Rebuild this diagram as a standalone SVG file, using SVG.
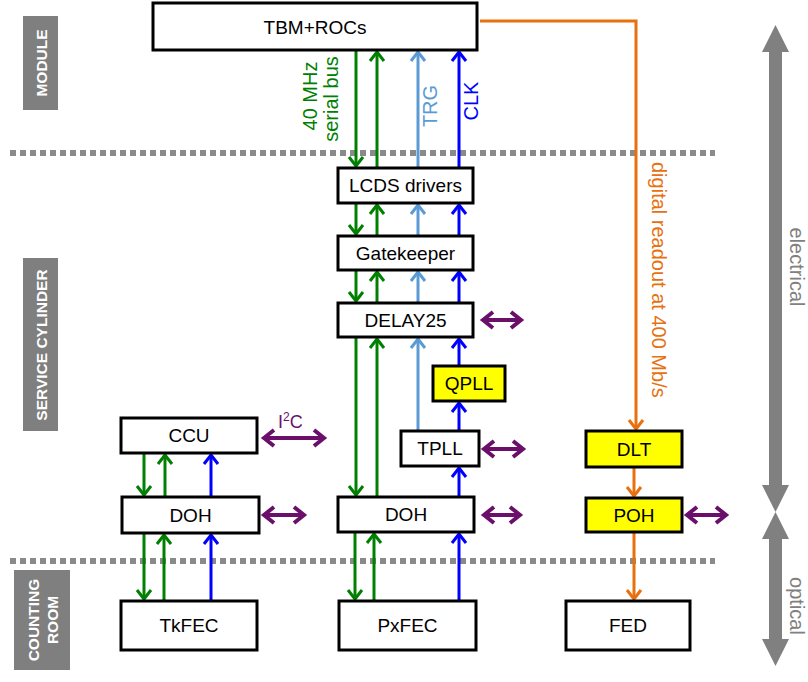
<svg xmlns="http://www.w3.org/2000/svg" width="808" height="682" viewBox="0 0 808 682">
<style>
.box{fill:#fff;stroke:#000;stroke-width:3}
.ybox{fill:#ffff00;stroke:#000;stroke-width:3}
.lbl{font-family:"Liberation Sans",Arial,sans-serif;font-size:19px;fill:#000;text-anchor:middle;dominant-baseline:central}
.side{fill:#7f7f7f}
.sidet{font-family:"Liberation Sans",Arial,sans-serif;font-size:15.5px;font-weight:bold;fill:#fff;text-anchor:middle;dominant-baseline:central}
.g{stroke:#008000;stroke-width:3;fill:none;marker-end:url(#aG)}
.lb{stroke:#5b9bd5;stroke-width:3;fill:none;marker-end:url(#aLB)}
.b{stroke:#0000ff;stroke-width:3;fill:none;marker-end:url(#aB)}
.o{stroke:#e8700f;stroke-width:3;fill:none;marker-end:url(#aO)}
.p{stroke:#6a0f6a;stroke-width:4;fill:none;marker-start:url(#aP);marker-end:url(#aP)}
.dot{stroke:#8a8a8a;stroke-width:6;stroke-dasharray:6 4;fill:none}
.gray{fill:#808080}
.rt{font-family:"Liberation Sans",Arial,sans-serif;font-size:20px}
</style>
<defs>
<marker id="aG" markerUnits="userSpaceOnUse" orient="auto" refX="0" refY="0" markerWidth="1" markerHeight="1" overflow="visible"><path d="M-9,-7 L0,0 L-9,7" fill="none" stroke="#008000" stroke-width="3"/></marker>
<marker id="aLB" markerUnits="userSpaceOnUse" orient="auto" refX="0" refY="0" markerWidth="1" markerHeight="1" overflow="visible"><path d="M-9,-7 L0,0 L-9,7" fill="none" stroke="#5b9bd5" stroke-width="3"/></marker>
<marker id="aB" markerUnits="userSpaceOnUse" orient="auto" refX="0" refY="0" markerWidth="1" markerHeight="1" overflow="visible"><path d="M-9,-7 L0,0 L-9,7" fill="none" stroke="#0000ff" stroke-width="3"/></marker>
<marker id="aO" markerUnits="userSpaceOnUse" orient="auto" refX="0" refY="0" markerWidth="1" markerHeight="1" overflow="visible"><path d="M-9,-7 L0,0 L-9,7" fill="none" stroke="#e8700f" stroke-width="3"/></marker>
<marker id="aP" markerUnits="userSpaceOnUse" orient="auto-start-reverse" refX="0" refY="0" markerWidth="1" markerHeight="1" overflow="visible"><path d="M-10,-8 L0,0 L-10,8" fill="none" stroke="#6a0f6a" stroke-width="4"/></marker>
</defs>

<g id="section-labels">
<rect class="side" x="23" y="16" width="35" height="94"/>
<text class="sidet" transform="translate(41,63) rotate(-90)">MODULE</text>
<rect class="side" x="23" y="258" width="35" height="173"/>
<text class="sidet" transform="translate(41,345) rotate(-90)">SERVICE CYLINDER</text>
<rect class="side" x="14" y="570" width="56" height="100"/>
<text class="sidet" transform="translate(33,620) rotate(-90)">COUNTING</text>
<text class="sidet" transform="translate(52,620) rotate(-90)">ROOM</text>
</g>

<g id="separators">
<line class="dot" x1="10" y1="153" x2="715" y2="153"/>
<line class="dot" x1="10" y1="561" x2="715" y2="561"/>
</g>

<g id="scale-arrows">
<rect class="gray" x="769" y="50" width="13" height="436"/>
<polygon class="gray" points="775.5,25 762,52 789,52"/>
<polygon class="gray" points="775.5,512 762,485 789,485"/>
<rect class="gray" x="769" y="537" width="13" height="104"/>
<polygon class="gray" points="775.5,512 762,539 789,539"/>
<polygon class="gray" points="775.5,666 762,639 789,639"/>
<text class="rt" fill="#808080" text-anchor="middle" transform="translate(790,267) rotate(90)">electrical</text>
<text class="rt" fill="#808080" text-anchor="middle" transform="translate(790,606) rotate(90)">optical</text>
</g>

<g id="connectors">
<path class="g" d="M356,50 V166"/>
<path class="g" d="M356,203 V234"/>
<path class="g" d="M356,270 V301"/>
<path class="g" d="M356,337 V495"/>
<path class="g" d="M355,532 V599"/>
<path class="g" d="M377,168 V52"/>
<path class="g" d="M377,236 V205"/>
<path class="g" d="M377,303 V272"/>
<path class="g" d="M377,497 V339"/>
<path class="g" d="M374,601 V534"/>
<path class="lb" d="M418,168 V52"/>
<path class="lb" d="M418,236 V205"/>
<path class="lb" d="M418,303 V272"/>
<path class="lb" d="M418,431 V339"/>
<path class="b" d="M459,168 V52"/>
<path class="b" d="M459,236 V205"/>
<path class="b" d="M459,303 V272"/>
<path class="b" d="M459,366 V339"/>
<path class="b" d="M459,431 V403"/>
<path class="b" d="M459,497 V468"/>
<path class="b" d="M459,601 V534"/>
<path class="g" d="M144,453 V495"/>
<path class="g" d="M165,497 V455"/>
<path class="b" d="M211,497 V455"/>
<path class="g" d="M144,533 V599"/>
<path class="g" d="M164,601 V535"/>
<path class="b" d="M211,601 V535"/>
<path class="o" d="M480,21 H636 V429"/>
<path class="o" d="M634,467 V496"/>
<path class="o" d="M634,532 V599"/>
<path class="p" d="M264,438 H324"/>
<path class="p" d="M264,515 H304"/>
<path class="p" d="M483,320 H521"/>
<path class="p" d="M484,449 H523"/>
<path class="p" d="M484,515 H520"/>
<path class="p" d="M687,515 H726"/>
</g>

<g id="connector-labels">
<text class="rt" fill="#008000" text-anchor="middle" transform="translate(317,96) rotate(-90)">40 MHz</text>
<text class="rt" fill="#008000" text-anchor="middle" transform="translate(338,99) rotate(-90)">serial bus</text>
<text class="rt" fill="#5b9bd5" font-size="18" text-anchor="middle" transform="translate(437,106) rotate(-90)">TRG</text>
<text class="rt" fill="#0000ff" font-size="18" text-anchor="middle" transform="translate(478,101) rotate(-90)">CLK</text>
<text class="rt" fill="#e8700f" font-size="21.5" text-anchor="start" transform="translate(652,162) rotate(90)">digital readout at 400 Mb/s</text>
<text font-family="Liberation Sans,Arial,sans-serif" font-size="18" fill="#6a0f6a" x="278" y="428">I<tspan font-size="12" dy="-7">2</tspan><tspan dy="7">C</tspan></text>
</g>

<g id="TBM-ROCs"><rect class="box" x="153" y="3" width="324" height="47"/><text class="lbl" x="315" y="27">TBM+ROCs</text></g>
<g id="LCDS"><rect class="box" x="338" y="168" width="135" height="35"/><text class="lbl" x="405.5" y="185.5">LCDS drivers</text></g>
<g id="Gatekeeper"><rect class="box" x="338" y="236" width="135" height="34"/><text class="lbl" x="405.5" y="253">Gatekeeper</text></g>
<g id="DELAY25"><rect class="box" x="338" y="303" width="135" height="34"/><text class="lbl" x="405.5" y="320">DELAY25</text></g>
<g id="QPLL"><rect class="ybox" x="433" y="366" width="72" height="35"/><text class="lbl" x="469" y="383.5">QPLL</text></g>
<g id="TPLL"><rect class="box" x="401" y="431" width="78" height="35"/><text class="lbl" x="440" y="448.5">TPLL</text></g>
<g id="DOH-px"><rect class="box" x="338" y="497" width="136" height="35"/><text class="lbl" x="406" y="514.5">DOH</text></g>
<g id="PxFEC"><rect class="box" x="339" y="601" width="137" height="49"/><text class="lbl" x="407.5" y="625.5">PxFEC</text></g>
<g id="CCU"><rect class="box" x="121" y="418" width="136" height="35"/><text class="lbl" x="189" y="435.5">CCU</text></g>
<g id="DOH-tk"><rect class="box" x="122" y="497" width="137" height="36"/><text class="lbl" x="190.5" y="515">DOH</text></g>
<g id="TkFEC"><rect class="box" x="121" y="601" width="136" height="49"/><text class="lbl" x="189" y="625.5">TkFEC</text></g>
<g id="DLT"><rect class="ybox" x="586" y="431" width="96" height="36"/><text class="lbl" x="634" y="449">DLT</text></g>
<g id="POH"><rect class="ybox" x="586" y="498" width="96" height="34"/><text class="lbl" x="634" y="515">POH</text></g>
<g id="FED"><rect class="box" x="566" y="601" width="124" height="49"/><text class="lbl" x="628" y="625.5">FED</text></g>
</svg>
